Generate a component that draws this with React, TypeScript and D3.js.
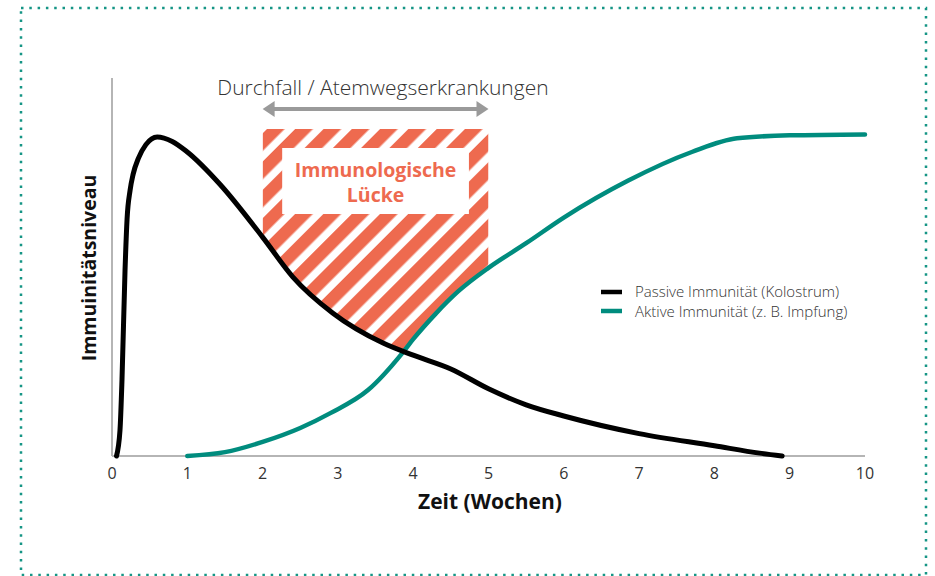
import React from "react";
import * as d3 from "d3";

// weeks on the x axis
const ticks = [0, 1, 2, 3, 4, 5, 6, 7, 8, 9, 10];

// passive immunity (colostrum)
const passiveWeeks = [0.06, 0.106, 0.133, 0.173, 0.2, 0.24, 0.28, 0.35, 0.45, 0.6, 0.8, 1.0, 1.43, 2.0, 2.4, 2.93, 3.6, 4.0, 4.5, 5.0, 5.5, 6.0, 7.0, 8.0, 8.6, 8.9];
const passiveLevel = [0, 8, 24, 58, 74, 83, 88, 93, 97.3, 99.7, 98.3, 95, 85, 68.4, 56, 44.7, 35.3, 31.5, 27.2, 21, 16, 12.5, 7, 3.2, 0.9, 0];

// active immunity (vaccination)
const activeWeeks = [1.0, 1.5, 2.0, 2.5, 2.9, 3.4, 3.85, 4.0, 4.3, 4.6, 5.0, 5.5, 6.0, 6.85, 7.7, 8.3, 9.0, 10.0];
const activeLevel = [0, 1.2, 4.4, 8.75, 13.4, 20.6, 32, 36.5, 44.5, 51.5, 58.8, 66.5, 74.5, 86, 95, 99.3, 100.2, 100.5];

// immunological gap
const gapStart = 2;
const gapEnd = 5;
const gapTop = 102.2;
const labelFrom = 2.26;
const labelTo = 4.74;

const coral = "#ee6a4f";
const teal = "#008c7e";
const font = "'Open Sans', 'Noto Sans', sans-serif";

const App = () => {
  const width = 935;
  const height = 576;

  const xScale = d3.scaleLinear().domain([0, 10]).range([112, 865]);
  const yScale = d3.scaleLinear().domain([0, 100]).range([456, 136]);

  const passive = passiveWeeks.map((w, i) => [w, passiveLevel[i]] as [number, number]);
  const active = activeWeeks.map((w, i) => [w, activeLevel[i]] as [number, number]);

  const line = d3
    .line<[number, number]>()
    .x((d) => xScale(d[0]))
    .y((d) => yScale(d[1]))
    .curve(d3.curveMonotoneX);

  // area under each curve, used to cut the hatched block
  const below = d3
    .area<[number, number]>()
    .x((d) => xScale(d[0]))
    .y0(yScale(0))
    .y1((d) => yScale(d[1]))
    .curve(d3.curveMonotoneX);

  const gx0 = xScale(gapStart);
  const gx1 = xScale(gapEnd);
  const arrowY = 109;

  return (
    <svg
      width={width}
      height={height}
      style={{ position: "absolute", left: 0, top: 0, background: "#fff" }}
    >
      <defs>
        <pattern
          id="stripes"
          patternUnits="userSpaceOnUse"
          width={20}
          height={20}
          patternTransform="rotate(45)"
        >
          <rect x={0} y={0} width={20} height={20} fill="#fff" />
          <rect x={0} y={0} width={12.5} height={20} fill={coral} />
        </pattern>
        <mask id="gapMask">
          <rect x={gx0} y={yScale(gapTop)} width={gx1 - gx0} height={yScale(0) - yScale(gapTop)} fill="#fff" />
          <path d={below(passive) || ""} fill="#000" />
          <path d={below(active) || ""} fill="#000" />
        </mask>
      </defs>

      {/* dotted frame */}
      <rect
        x={21}
        y={8}
        width={905}
        height={567}
        fill="none"
        stroke="#159585"
        strokeWidth={2.5}
        strokeDasharray="2.5 5.8"
      />

      {/* hatched gap */}
      <rect
        x={gx0}
        y={yScale(gapTop)}
        width={gx1 - gx0}
        height={yScale(0) - yScale(gapTop)}
        fill="url(#stripes)"
        mask="url(#gapMask)"
      />
      <rect x={xScale(labelFrom)} y={148} width={xScale(labelTo) - xScale(labelFrom)} height={66} fill="#fff" />
      <text x={(xScale(labelFrom) + xScale(labelTo)) / 2} y={177} textAnchor="middle" fontFamily={font} fontWeight={700} fontSize={19.5} fill={coral}>
        Immunologische
      </text>
      <text x={(xScale(labelFrom) + xScale(labelTo)) / 2} y={202} textAnchor="middle" fontFamily={font} fontWeight={700} fontSize={19.5} fill={coral}>
        Lücke
      </text>

      {/* arrow and title */}
      <text x={383} y={95} textAnchor="middle" fontFamily={font} fontWeight={300} fontSize={21} fill="#333">
        Durchfall / Atemwegserkrankungen
      </text>
      <line x1={gx0 + 8} x2={gx1 - 8} y1={arrowY} y2={arrowY} stroke="#9a9a9a" strokeWidth={4} />
      <path d={`M${gx0},${arrowY} L${gx0 + 12},${arrowY - 8} L${gx0 + 12},${arrowY + 8} Z`} fill="#9a9a9a" />
      <path d={`M${gx1},${arrowY} L${gx1 - 12},${arrowY - 8} L${gx1 - 12},${arrowY + 8} Z`} fill="#9a9a9a" />

      {/* axes */}
      <line x1={xScale(0)} x2={xScale(0)} y1={78} y2={yScale(0)} stroke="#b5b5b5" strokeWidth={2} />
      <line x1={xScale(0)} x2={xScale(10)} y1={yScale(0)} y2={yScale(0)} stroke="#b5b5b5" strokeWidth={2} />
      {ticks.map((t) => (
        <text key={t} x={xScale(t)} y={479} textAnchor="middle" fontFamily={font} fontWeight={400} fontSize={16} fill="#333">
          {t}
        </text>
      ))}
      <text x={490} y={509} textAnchor="middle" fontFamily={font} fontWeight={700} fontSize={21} fill="#111">
        Zeit (Wochen)
      </text>
      <text
        transform="translate(96,268) rotate(-90)"
        textAnchor="middle"
        fontFamily={font}
        fontWeight={700}
        fontSize={19.5}
        fill="#111"
      >
        Immuinitätsniveau
      </text>

      {/* curves */}
      <path d={line(active) || ""} fill="none" stroke={teal} strokeWidth={4.5} strokeLinecap="round" />
      <path d={line(passive) || ""} fill="none" stroke="#000" strokeWidth={5} strokeLinecap="round" />

      {/* legend */}
      <line x1={601} x2={622} y1={292} y2={292} stroke="#000" strokeWidth={4.5} />
      <text x={635} y={296.5} fontFamily={font} fontWeight={300} fontSize={15} fill="#333">
        Passive Immunität (Kolostrum)
      </text>
      <line x1={601} x2={622} y1={311} y2={311} stroke={teal} strokeWidth={4.5} />
      <text x={635} y={317} fontFamily={font} fontWeight={300} fontSize={15} fill="#333">
        Aktive Immunität (z. B. Impfung)
      </text>
    </svg>
  );
};

export default App;
